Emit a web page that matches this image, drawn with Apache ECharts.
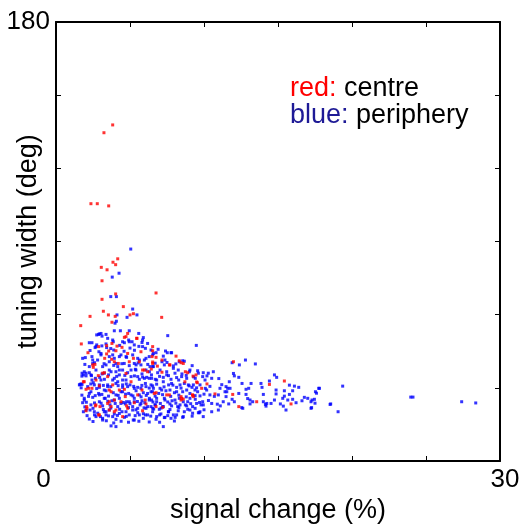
<!DOCTYPE html>
<html><head><meta charset="utf-8">
<script src="https://cdn.jsdelivr.net/npm/echarts@6/dist/echarts.min.js"></script>
<style>html,body{margin:0;padding:0;background:#fff}#c{width:525px;height:527px}</style>
</head><body><div id="c"></div>
<script>
const xTickLabels = {0: '{z|0}', 30: '{t|30}'};
const yTickLabels = {180: '180'};
const xName = 'signal change (%)';
const yName = 'tuning width (deg)';

const redCentre = [
[3.83,137.8],[3.24,134.6],[2.36,105.5],[2.79,105.5],[3.56,104.6],
[4.17,82.9],[3.85,81.5],[4.03,80.5],[3.06,79.4],[3.45,78.4],[3.11,73.9],[6.76,68.9],[4.03,68.5],[3.11,66.3],
[2.3,59.3],[3.2,61.4],[3.54,59.9],[4.0,59.3],[3.78,56.9],[4.55,63.3],[5.23,60.4],[5.0,59.9],[7.14,58.9],
[1.67,55.5],[1.71,48.0],[2.16,44.4],
[4.84,52.3],[4.73,51],[5.47,50.3],[5.74,44.8],[2.52,38.4],[2.63,39.6],[2.86,35],[3.15,36],[3.56,45.1],[3.42,43.9],[3.29,42.1],[4.12,47.1],[4.46,46.6],[3.76,41.7],[4.21,40],[4.95,40.7],[4.73,35.9],[5.07,32.5],[5.85,37.3],[6.19,36.6],[1.91,32.5],[2.21,29.8],[2.7,33.2],[3.49,34.6],[3.83,31.2],[3.72,28.4],[4.28,29.1],[4.68,26.4],[5.52,27.1],[6.03,25],[2.09,21.6],[2.7,23],[2.93,18.9],[3.6,24.3],[3.72,22.3],[4.05,20.9],[4.84,21.6],[5.85,20.6],[4.5,18.2],[2.97,22.3],[6.53,40],
[6.53,46.9],[6.53,45.2],[6.53,40.6],[6.76,42.5],[6.85,38.9],[6.44,37.7],[8.11,43],[7.7,39.4],[8.33,41.1],[7.16,36.4],[8.6,40],[8.9,36.2],[9.26,34.8],[9.5,32.4],[8.71,32.5],[10.2,31.6],[9.84,29.8],[10.74,27.5],[6.76,28],[7.48,27.1],[8.49,25.7],[9.28,26.4],
[11.99,40.7],[14.42,31.4],[15.43,32.8],[11.94,27.3],[13.56,24.3],[12.35,22.3],[15.88,23.4],
[2.88,46.9],[3.42,47.3],[3.78,48.2],[4.62,50.7],[5.45,50.3],[4.05,45.2],[2.48,39.4],[3.27,36.2],[3.94,40.7],[4.84,44.1],[5.23,42.1],[5.63,40.7],[5.97,37.3],[6.49,42.8],[7.16,41.4],[7.66,39.4],[8.45,40.3],[8.74,36.6],[9.46,35.3],[1.85,32.5],[2.03,29.4],[2.43,29.8],[2.93,30.8],[3.6,29.1],[4.62,29.4],[5.81,29.1],[6.64,27.7],[7.66,27.1],[8.45,26.4],[9.23,27],[2.07,22.3],[2.03,20.6],[2.66,22.6],[3.6,20.9],[3.94,25],[4.39,24.3],[5.29,23.9],[6.08,23.4],[6.76,22.3],[7.21,22],[8.45,25],[2.88,18.9],[3.94,20.2],[3.49,23.6],[4.77,22.6],[9.23,27.1],[8.6,25.4],[9.55,32.1]
];

const bluePeriphery = [
[5.05,86.9],[4.26,77.0],[3.8,75.4],[3.7,67.4],[4.08,67.4],[4.12,59.9],[4.08,57.3],[3.99,56.5],[5.18,62.3],[5.47,59.9],[4.8,58.9],[4.35,53.4],[3.94,53.4],[7.55,51.4],[9.48,47.4],
[4.95,53.4],[2.93,52.1],[2.25,48.5],[2.75,51.7],[3.38,48],[2.7,46.9],[3.11,51.2],[1.8,42.1],[1.98,42.4],[1.76,36],[2.03,36],[1.85,35.3],[1.69,31.6],[2.36,35.3],[2.43,33.2],[2.59,31.2],[2.25,27.7],[1.91,25.7],[1.8,23.9],[2.36,23],[2.03,20.9],[2.59,20.2],[2.25,17.2],[2.7,18.2],[3.26,20.2],[3.38,18.9],[3.72,14.4],[3.15,16.8],[3.83,18.2],[4.28,19.5],[4.73,20.2],[5.18,20.9],[5.29,16.8],[5.63,18.9],[6.19,18.9],[6.42,22.3],[6.3,25],[5.74,23.6],[5.29,24.3],[4.95,24.3],[4.39,23.6],[3.94,25],[3.26,25.7],[2.93,27.1],[3.26,29.1],[3.49,30.5],[2.93,31.2],[3.04,33.2],[3.83,33.2],[4.17,32.5],[4.5,31.2],[4.84,30.5],[5.29,29.8],[5.74,29.8],[6.08,30.5],[6.42,31.2],[6.53,28.4],[6.19,27.7],[5.63,27.1],[5.07,27.1],[4.5,28.4],[4.05,27.1],[4.73,33.2],[5.07,34.6],[5.52,34.6],[5.97,33.9],[6.3,33.9],[5.4,37.3],[5.07,37.3],[4.5,37.3],[4.05,36.6],[3.6,37.3],[3.15,38.7],[2.81,41.4],[3.04,43.5],[3.83,43.5],[4.28,42.8],[4.73,42.8],[5.18,43.5],[5.52,42.1],[5.97,41.4],[6.3,42.8],[5.85,46.9],[5.29,47.6],[4.95,48.9],[4.5,48.9],[3.83,49.6],[3.49,50.3],[5.85,49.6],[6.19,48.2],[6.42,45.5],[6.53,38.7],[4.05,40],[4.61,40],[5.29,40],[3.6,40.7],[3.26,36],[4.28,35.3],[5.74,39.4],[6.08,37.3],[2.25,38.7],[2.48,41.4],[1.58,31.2],[4.05,14.1],[5.22,16.8],[3.6,20.9],[5.52,21.6],[6.08,21.6],
[7.25,43],[7.52,44.4],[7.81,44.4],[7.36,41.4],[8.56,41.1],[8.67,40.9],[6.58,44.1],[6.58,38.7],[7.03,37.3],[7.93,38],[8.26,37.3],[9.05,37.3],[7.48,35.3],[8.04,36],[8.49,34.6],[9.62,36],[9.95,36.2],[10.29,36],[10.63,36.6],[10.52,33.9],[10.07,33.2],[9.73,31.2],[9.28,31.2],[8.94,31.2],[8.38,31.2],[7.81,31.8],[7.25,32.5],[6.8,33.2],[6.46,33.9],[6.58,29.8],[7.14,29.1],[7.7,29.1],[8.15,28.4],[8.83,29.1],[9.39,29.1],[10.18,29.1],[11.08,29.8],[11.49,30.5],[11.42,28.4],[10.97,27.1],[10.4,27.1],[9.73,26.7],[9.05,25.7],[8.04,25],[7.36,25],[6.8,25.7],[6.46,25],[6.69,23],[7.25,22.3],[7.81,22.6],[8.38,23],[8.83,22.6],[9.5,23.6],[9.95,23],[10.52,23.6],[11.3,24.3],[11.49,26.4],[10.97,20.9],[10.52,20.2],[9.62,19.8],[9.05,20.9],[8.26,20.6],[7.59,20.2],[6.98,21.2],[6.53,21.6],[6.8,18.2],[7.36,17.9],[7.93,18.9],[8.6,18.2],[9.95,18.2],[7.25,14.1],
[11.9,40.3],[12.39,39.4],[12.8,41.4],[13.47,39.8],[11.99,35.9],[12.05,34.9],[12.35,34.3],[11.71,32.5],[12.57,31.8],[13.18,31.8],[13.85,31.8],[14.42,32.8],[14.76,35.3],[14.91,34.3],[11.6,29.8],[11.76,29.8],[12.84,29.4],[13.02,29.8],[13.92,30.2],[15.77,31.1],[16.11,30.7],[16.4,30.2],[15.99,28.8],[15.43,28.8],[14.87,29.1],[11.54,28.4],[12.35,27.7],[12.84,27.3],[14.01,27.3],[14.87,27.5],[15.43,26.6],[15.77,27.3],[15.99,25.3],[15.66,25],[15.32,25.7],[16.78,26.1],[17.01,25.7],[17.46,25.3],[17.75,29.8],[17.53,28.4],[11.9,25.3],[12.05,24.3],[12.95,25.6],[13.11,25],[13.29,24.3],[14.01,24.3],[14.24,23.6],[14.53,23.6],[14.76,25],[15.16,23.4],[15.36,22.5],[16.22,23.9],[16.62,24.7],[17.23,24.3],[17.3,25],[12.62,21.6],[13.11,23.4],[14.19,22.5],[15.54,20.9],[17.23,21.6],[18.52,23.2],[11.67,23.4],[14.15,23.2],
[9.68,19.8],[17.27,21.9],[12.55,21.9],[17.5,23.7],[17.6,27.8],[17.8,29.8],
[19.37,30.7],[18.56,23.4],[19.06,20.2],[23.97,26.2],[24.12,26.2],[27.41,24.3],[28.36,23.8],
[1.62,31.4],[7.32,17.8],
[2.88,51.9],[3.04,52.3],[3.38,51.9],[5.59,52.3],[5.9,50.6],
[2.43,48.5],[2.75,47.6],[2.64,46.5],[3.42,46.5],[3.87,48.9],[4.62,48.5],[4.91,49.6],[5.14,48.9],[5.81,48.6],[6.04,46.2],[6.76,44.4],[7.77,44.4],[6.53,43.5],
[2.43,42.8],[3.04,44.1],[3.6,42.8],[3.94,42.1],[4.39,43.5],[4.77,42.5],[5.63,41.4],[6.08,42.1],[7.16,40.7],[7.32,39.4],[7.93,39],[8.33,40.7],[2.48,40],[3.38,39.4],[4.17,38.7],[5.41,39.4],[6.35,38.7],
[1.91,36.6],[2.03,34.9],[2.25,36.2],[2.7,37.3],[3.11,35.7],[3.72,36.6],[4.28,37.3],[4.84,36.2],[5.36,37.6],[5.81,35.7],[6.31,36.6],[6.87,36.2],[7.48,36.6],[8.51,35.7],[9.01,36.6],[9.57,37],[2.66,33.9],[3.27,33.5],[3.94,33.9],[4.5,33.2],[5.63,33.5],[6.13,34.3],[6.71,33.5],[7.25,34.3],[7.77,33.5],[8.29,33.2],[8.83,33.9],[9.41,33.9],[9.91,34.6],
[1.76,31.4],[2.14,30.5],[2.52,32.1],[2.93,30.2],[3.49,31.2],[4.05,31.8],[4.5,30.2],[5.0,31.2],[5.52,30.2],[6.04,31.8],[6.53,30.8],[7.03,29.8],[7.61,31.2],[8.15,30.2],[8.67,31.8],[9.19,30.2],[10.09,29.8],[2.36,28.4],[2.88,27.7],[3.38,28.8],[3.87,28],[4.39,28.4],[4.91,27.7],[5.41,28.8],[5.9,28],[6.42,28.4],[6.94,27.7],[7.43,28.8],[8.0,28],[8.56,28.4],[9.05,27.7],[9.57,28.4],
[1.91,25],[2.48,26.1],[2.93,24.3],[3.33,25.7],[3.78,24.7],[4.28,25.7],[4.77,24.3],[5.29,25.7],[5.81,24.7],[6.31,25.7],[6.8,24.3],[7.32,25.7],[7.84,24.7],[8.33,25.7],[8.9,24.3],[9.41,25.3],[9.91,24.3],[3.15,22.6],[3.65,23],[4.17,22.3],[4.68,23.4],[5.18,22.3],[5.68,23],[6.19,22.3],[6.71,23],[7.21,22.3],[7.7,23.4],[8.22,22.3],[8.74,23],[9.23,22.3],[9.8,23],
[1.85,20.2],[2.3,20.9],[2.82,19.6],[3.38,20.2],[3.94,19.3],[4.46,20.2],[4.95,18.9],[5.52,19.8],[6.04,18.9],[6.53,20.2],[7.09,19.3],[7.61,20.2],[8.15,18.9],[8.67,20.2],[9.23,19.6],[9.73,20.2],[3.15,17.5],[4.05,17.1],[4.62,17.9],[5.9,17.5],[6.76,17.1],[7.77,17.5],[8.56,17.9],
[3.1,47.2],[3.7,46.1],[4.3,47.4],[5.0,46.3],[5.6,47.0],
[2.3,45.3],[2.9,44.8],[3.9,45.5],[4.6,45.0],[5.3,45.4],[6.9,45.8],[7.4,45.1],
[1.95,39.6],[2.6,40.3],[3.25,39.9],[3.9,39.2],[4.45,39.9],[4.95,39.1],[5.55,40.2],[6.2,39.6],[6.7,40.1],[7.5,40.4],[8.1,39.8],[9.2,39.1],
[1.75,34.8],[2.4,35.0],[2.95,34.3],[3.55,35.3],[4.1,34.7],[4.65,35.1],[5.3,34.9],[5.85,34.4],[6.45,35.3],[7.0,34.7],[7.6,35.0],[8.15,34.2],[8.8,35.1],[9.3,34.5],[10.2,34.9],[11.0,33.8],
[1.7,30.0],[2.35,31.6],[2.75,29.7],[3.2,31.0],[3.7,30.5],[4.2,30.9],[4.75,31.6],[5.25,30.6],[5.8,31.0],[6.3,29.9],[6.8,31.5],[7.3,30.4],[7.9,31.1],[8.45,29.9],[9.0,30.8],[9.5,30.0],[10.4,30.6],[11.2,31.3],
[1.75,27.0],[2.2,26.5],[2.65,26.8],[3.1,27.3],[3.55,26.6],[4.2,26.9],[4.7,27.4],[5.2,26.7],[5.75,26.3],[6.1,26.9],[6.7,26.6],[7.2,27.2],[7.75,26.5],[8.3,27.0],[8.8,26.3],[9.4,26.8],[10.0,27.4],[10.7,26.5],
[2.05,24.1],[2.6,23.8],[3.05,23.7],[3.5,24.5],[4.0,23.6],[4.55,24.0],[5.0,23.5],[5.5,24.4],[6.0,23.9],[6.55,24.2],[7.05,23.6],[7.55,24.2],[8.1,23.7],[8.6,24.3],[9.1,23.5],[9.7,24.0],[10.3,24.8],[10.9,23.3],
[1.95,22.2],[2.5,21.6],[3.2,21.1],[3.7,21.7],[4.3,21.2],[4.9,21.9],[5.4,21.0],[5.95,21.8],[6.6,21.3],[7.1,21.7],[7.7,21.1],[8.3,21.9],[8.9,21.2],[9.4,21.6],[10.0,21.0],[11.1,22.6],
[2.1,18.6],[2.6,18.9],[3.0,18.2],[3.55,18.5],[4.15,18.7],[4.75,18.3],[5.35,18.6],[5.9,19.4],[6.4,18.4],[7.0,18.9],[7.55,18.6],[8.05,17.9],[9.2,18.4],
[2.5,16.2],[3.4,16.5],[3.9,15.6],[4.4,16.3],[4.9,15.9],[5.6,16.3],[6.3,16.0],[7.0,15.9],[8.0,16.4]
];

const FONT = 'Liberation Sans, Arial, Helvetica, sans-serif';
const chart = echarts.init(document.getElementById('c'), null, {renderer: 'canvas'});
const boxLine = {show: true, onZero: false, lineStyle: {color: '#000', width: 2}};
const tick = {show: true, inside: true, length: 5, lineStyle: {color: '#000', width: 1}};
const txt = {fontSize: 27, fontFamily: FONT, fontWeight: 'normal', lineHeight: 27};
chart.setOption({
  animation: false,
  backgroundColor: '#fff',
  grid: {left: 56, right: 25, top: 22, bottom: 66, containLabel: false, outerBoundsMode: 'none'},
  title: {
    left: 285, top: 70,
    text: '{r|red:} {k|centre}\n{b|blue:} {k|periphery}',
    textStyle: {
      fontWeight: 'normal', fontSize: 27, fontFamily: FONT,
      rich: {
        r: Object.assign({color: '#ff0000'}, txt),
        k: Object.assign({color: '#000000'}, txt),
        b: Object.assign({color: '#1e1a96'}, txt)
      }
    }
  },
  xAxis: [{
    type: 'value', min: 0, max: 30, interval: 5, position: 'bottom',
    name: xName, nameLocation: 'middle', nameGap: 36, nameMoveOverlap: false,
    nameTextStyle: {fontSize: 27, fontFamily: FONT, color: '#000'},
    axisLine: boxLine, axisTick: tick, splitLine: {show: false},
    axisLabel: {
      show: true, margin: 6, fontSize: 26, fontFamily: FONT, color: '#000',
      formatter: v => xTickLabels[v] || '',
      rich: {z: {fontSize: 26, fontFamily: FONT, color: '#000', padding: [0, 25, 0, 0]},
             t: {fontSize: 26, fontFamily: FONT, color: '#000', padding: [0, 0, 0, 10]}}
    }
  }, {
    type: 'value', min: 0, max: 30, interval: 5, position: 'top',
    axisLine: boxLine, axisTick: tick, splitLine: {show: false}, axisLabel: {show: false}
  }],
  yAxis: [{
    type: 'value', min: 0, max: 180, interval: 30, position: 'left',
    name: yName, nameLocation: 'middle', nameGap: 14, nameRotate: 90, nameMoveOverlap: false,
    nameTextStyle: {fontSize: 27, fontFamily: FONT, color: '#000'},
    axisLine: boxLine, axisTick: tick, splitLine: {show: false},
    axisLabel: {show: true, margin: 6, fontSize: 26, fontFamily: FONT, color: '#000',
      formatter: v => yTickLabels[v] || ''}
  }, {
    type: 'value', min: 0, max: 180, interval: 30, position: 'right',
    axisLine: boxLine, axisTick: tick, splitLine: {show: false}, axisLabel: {show: false}
  }],
  series: [{
    name: 'periphery', type: 'scatter', xAxisIndex: 0, yAxisIndex: 0,
    data: bluePeriphery, symbol: 'rect', symbolSize: 3,
    itemStyle: {color: '#0000ff'}, silent: true
  }, {
    name: 'centre', type: 'scatter', xAxisIndex: 0, yAxisIndex: 0,
    data: redCentre, symbol: 'rect', symbolSize: 3,
    itemStyle: {color: '#ff0000'}, silent: true
  }]
});
</script>
</body></html>
